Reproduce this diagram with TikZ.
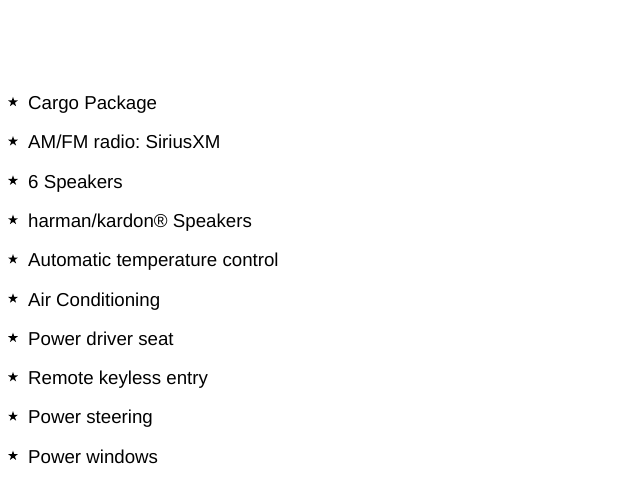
\documentclass[tikz,border=0pt]{standalone}
\usepackage{fontspec}
\setmainfont{Liberation Sans}
\frenchspacing
\usetikzlibrary{shapes.geometric}
\tikzset{
    bullet/.style={star, star points=5, star point ratio=2.6, fill=black, inner sep=0pt, minimum size=10.4pt},
    item/.style={anchor=base west, inner sep=0pt, font=\fontsize{18.7}{21}\selectfont}
}
\begin{document}
\begin{tikzpicture}[x=1pt, y=-1pt]
    \useasboundingbox (0,0) rectangle (640,480);
    \foreach \txt [count=\i from 0] in {Cargo Package, AM/FM radio: SiriusXM, 6 Speakers,
        harman/kardon® Speakers, Automatic temperature control, Air Conditioning,
        Power driver seat, Remote keyless entry, Power steering, Power windows} {
        \node[bullet] (star\i) at (13, 109.5+39.3*\i-7.5) {};
        \node[item] (item\i) at (28, 109.5+39.3*\i) {\txt};
    }
\end{tikzpicture}
\end{document}
